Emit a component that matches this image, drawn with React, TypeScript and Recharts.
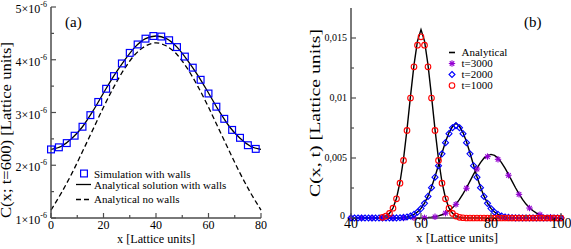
import React from 'react';
import { ComposedChart, Line, XAxis, YAxis } from 'recharts';

const FONT = '"Liberation Serif", "Times New Roman", Times, serif';
const FRAME = '#4d4d4d';
const BLUE = '#0000ff';
const RED = '#ff0000';
const VIOLET = '#9400d3';

// ---------------- Panel (a): C(x; t=600), values in units of 10^-6 ----------------
const aSimX = [0, 3, 6, 9, 12, 15, 18, 21, 24, 27, 30, 33, 36, 39, 42, 45, 48, 51, 54, 57, 60, 63, 66, 69, 72, 75, 78];
const aSimC = [2.30, 2.34, 2.42, 2.56, 2.73, 2.95, 3.20, 3.45, 3.69, 3.93, 4.13, 4.29, 4.40, 4.45, 4.44, 4.37, 4.24, 4.06, 3.85, 3.62, 3.36, 3.11, 2.88, 2.67, 2.52, 2.38, 2.31];
const aCurveX = [0, 4, 8, 12, 16, 20, 24, 28, 32, 36, 40, 44, 48, 52, 56, 60, 64, 68, 72, 76, 80];
const aWallsC = [2.30, 2.36, 2.51, 2.73, 3.03, 3.37, 3.70, 3.99, 4.24, 4.40, 4.45, 4.40, 4.24, 3.99, 3.70, 3.37, 3.03, 2.73, 2.51, 2.36, 2.30];
const aNoWallsC = [1.15, 1.48, 1.85, 2.26, 2.68, 3.10, 3.49, 3.83, 4.10, 4.26, 4.32, 4.26, 4.10, 3.83, 3.49, 3.10, 2.68, 2.26, 1.85, 1.48, 1.15];
const aXTicks = [0, 10, 20, 30, 40, 50, 60, 70, 80];
const aXMajor = [0, 20, 40, 60, 80];
const aYTicks = [1, 1.5, 2, 2.5, 3, 3.5, 4, 4.5, 5];
const aYMajor = [1, 2, 3, 4, 5];
const aLegend = ['Simulation with walls', 'Analytical solution with walls', 'Analytical no walls'];

// ---------------- Panel (b): C(x, t) ----------------
const bRedX = [49, 50, 51, 52, 53, 54, 55, 56, 57, 58, 59, 60, 61, 62, 63, 64, 65, 66, 67, 68, 69, 70, 71, 72, 73, 74, 75, 76, 77, 78, 79, 80, 81, 82, 83, 84, 85, 86, 87, 88, 89, 90, 91, 92, 93, 94, 95, 96, 97, 98, 99, 100];
const bRedC = [0.00006, 0.00016, 0.00038, 0.00082, 0.0016, 0.0029, 0.0048, 0.0073, 0.0100, 0.0126, 0.0144, 0.0151, 0.0144, 0.0126, 0.0100, 0.0073, 0.0048, 0.0029, 0.0016, 0.00082, 0.00038, 0.00016, 0.00006, 0.00002, 0, 0, 0, 0, 0, 0, 0, 0, 0, 0, 0, 0, 0, 0, 0, 0, 0, 0, 0, 0, 0, 0, 0, 0, 0, 0, 0, 0];
const bBlueX = [40, 41, 42, 43, 44, 45, 46, 47, 48, 49, 50, 51, 52, 53, 54, 55, 56, 57, 58, 59, 60, 61, 62, 63, 64, 65, 66, 67, 68, 69, 70, 71, 72, 73, 74, 75, 76, 77, 78, 79, 80, 81, 82, 83, 84, 85, 86, 87, 88, 89, 90, 91, 92, 93, 94, 95, 96, 97, 98, 99, 100];
const bBlueC = [0, 0, 0, 0, 0, 0, 0, 0, 0, 0, 0, 0, 0.00001, 0.00001, 0.00002, 0.00005, 0.00009, 0.00017, 0.00030, 0.00049, 0.00079, 0.00122, 0.00180, 0.00253, 0.00340, 0.00436, 0.00535, 0.00628, 0.00703, 0.00752, 0.00770, 0.00752, 0.00703, 0.00628, 0.00535, 0.00436, 0.00340, 0.00253, 0.00180, 0.00122, 0.00079, 0.00049, 0.00030, 0.00017, 0.00009, 0.00005, 0.00002, 0.00001, 0.00001, 0, 0, 0, 0, 0, 0, 0, 0, 0, 0, 0, 0];
const bVioletX = [40, 43, 46, 49, 52, 55, 58, 61, 64, 67, 70, 73, 76, 79, 82, 85, 88, 91, 94, 97, 100];
const bVioletC = [0, 0, 0, 0, 0, 0, 0.00001, 0.00002, 0.00010, 0.00040, 0.00114, 0.00248, 0.00408, 0.00512, 0.00489, 0.00356, 0.00197, 0.00083, 0.00027, 0.00007, 0.00001];

const bLine1000X = [40, 47, 48, 49, 50, 51, 52, 53, 54, 55, 56, 57, 58, 59, 60, 61, 62, 63, 64, 65, 66, 67, 68, 69, 70, 71, 72, 73, 100];
const bLine1000C = [0, 0.00001, 0.00002, 0.00006, 0.00016, 0.00039, 0.00083, 0.00165, 0.00298, 0.00491, 0.00739, 0.01016, 0.01276, 0.01475, 0.0157, 0.01475, 0.01276, 0.01016, 0.00739, 0.00491, 0.00298, 0.00165, 0.00083, 0.00039, 0.00016, 0.00006, 0.00002, 0.00001, 0];
const bLine2000X = [40, 52, 53, 54, 55, 56, 57, 58, 59, 60, 61, 62, 63, 64, 65, 66, 67, 68, 69, 70, 71, 72, 73, 74, 75, 76, 77, 78, 79, 80, 81, 82, 83, 84, 85, 86, 87, 88, 100];
const bLine2000C = [0, 0, 0.00001, 0.00002, 0.00005, 0.00009, 0.00017, 0.00030, 0.00050, 0.00080, 0.00124, 0.00182, 0.00256, 0.00344, 0.00442, 0.00542, 0.00636, 0.00712, 0.00762, 0.0079, 0.00762, 0.00712, 0.00636, 0.00542, 0.00442, 0.00344, 0.00256, 0.00182, 0.00124, 0.00080, 0.00050, 0.00030, 0.00017, 0.00009, 0.00005, 0.00002, 0.00001, 0, 0];
const bLine3000X = [40, 59, 60, 61, 62, 63, 64, 65, 66, 67, 68, 69, 70, 71, 72, 73, 74, 75, 76, 77, 78, 79, 80, 81, 82, 83, 84, 85, 86, 87, 88, 89, 90, 91, 92, 93, 94, 95, 96, 97, 98, 99, 100];
const bLine3000C = [0, 0, 0.00001, 0.00002, 0.00004, 0.00007, 0.00011, 0.00018, 0.00027, 0.00041, 0.00060, 0.00085, 0.00116, 0.00155, 0.00201, 0.00252, 0.00307, 0.00363, 0.00416, 0.00462, 0.00499, 0.00522, 0.0053, 0.00522, 0.00499, 0.00462, 0.00416, 0.00363, 0.00307, 0.00252, 0.00201, 0.00155, 0.00116, 0.00085, 0.00060, 0.00041, 0.00027, 0.00018, 0.00011, 0.00007, 0.00004, 0.00002, 0.00001];
const bXTicks = [40, 50, 60, 70, 80, 90, 100];
const bXMajor = [40, 60, 80, 100];
const bYTicks = [0, 0.0025, 0.005, 0.0075, 0.01, 0.0125, 0.015];
const bYMajor = [0, 0.005, 0.01, 0.015];
const bLegend = ['Analytical', 't=3000', 't=2000', 't=1000'];

const pts = (xs: number[], ys: number[]) => xs.map((x, i) => ({ x, y: ys[i] }));

// ---------------- marker shapes ----------------
const Square = ({ cx, cy }: any) => (
  <rect x={cx - 3.4} y={cy - 3.4} width={6.8} height={6.8} fill="none" stroke={BLUE} strokeWidth={1.2} />
);
const Circle = ({ cx, cy }: any) => <circle cx={cx} cy={cy} r={2.8} fill="none" stroke={RED} strokeWidth={1.1} />;
const Diamond = ({ cx, cy }: any) => (
  <polygon points={`${cx},${cy - 3} ${cx + 3},${cy} ${cx},${cy + 3} ${cx - 3},${cy}`} fill="none" stroke={BLUE} strokeWidth={1.1} />
);
const Star = ({ cx, cy }: any) => {
  const r = 3.2;
  const d = r * 0.707;
  return (
    <g stroke={VIOLET} strokeWidth={1.1}>
      <line x1={cx - r} y1={cy} x2={cx + r} y2={cy} />
      <line x1={cx} y1={cy - r} x2={cx} y2={cy + r} />
      <line x1={cx - d} y1={cy - d} x2={cx + d} y2={cy + d} />
      <line x1={cx - d} y1={cy + d} x2={cx + d} y2={cy - d} />
    </g>
  );
};
const dotOf = (Shape: any) => (p: any) => <Shape key={`d${p.index}`} cx={p.cx} cy={p.cy} />;

// ---------------- tick renderer ----------------
const isIn = (arr: number[], v: number) => arr.some((m) => Math.abs(m - v) < 1e-9);
type Side = 'left' | 'right' | 'top' | 'bottom';
const makeTick = (side: Side, majors: number[], label?: (v: number, x: number, y: number) => React.ReactNode) =>
  (props: any) => {
    const { x, y, payload } = props;
    const v = payload.value;
    const major = isIn(majors, v);
    const len = major ? 5 : 3;
    let l: any;
    if (side === 'left') l = { x1: x, y1: y, x2: x + len, y2: y };
    else if (side === 'right') l = { x1: x, y1: y, x2: x - len, y2: y };
    else if (side === 'bottom') l = { x1: x, y1: y, x2: x, y2: y - len };
    else l = { x1: x, y1: y, x2: x, y2: y + len };
    return (
      <g>
        <line {...l} stroke={FRAME} strokeWidth={1.2} />
        {major && label ? label(v, x, y) : null}
      </g>
    );
  };

const aYLabel = (v: number, x: number, y: number) => (
  <text x={x - 4} y={y + 6} textAnchor="end" fontFamily={FONT} fontSize={12} fill="#000">
    <tspan>{`${v}×10`}</tspan>
    <tspan dy={-6} fontSize={8}>-6</tspan>
  </text>
);
const aXLabel = (v: number, x: number, y: number) => (
  <text x={x} y={y + 11} textAnchor="middle" fontFamily={FONT} fontSize={12} fill="#000">{v}</text>
);
const bYLabel = (v: number, x: number, y: number) => (
  <text x={v === 0 ? x - 6 : x - 4} y={v === 0 ? y + 1 : y + 3} textAnchor="end" fontFamily={FONT} fontSize={10} fill="#000">
    {v === 0 ? '0' : String(v).replace('.', ',')}
  </text>
);
const bXLabel = (v: number, x: number, y: number) => (
  <text x={x} y={y + 9.5} textAnchor="middle" fontFamily={FONT} fontSize={14} fill="#000">{v}</text>
);

const axisLine = { stroke: FRAME, strokeWidth: 1.5 };

function PanelA() {
  return (
    <ComposedChart width={290} height={249} margin={{ top: 7, right: 29, bottom: 0, left: 0 }}>
      <XAxis xAxisId="b" dataKey="x" type="number" domain={[0, 80]} ticks={aXTicks} interval={0} height={31}
        tickSize={0} tickMargin={0} tickLine={false} axisLine={axisLine} tick={makeTick('bottom', aXMajor, aXLabel)} />
      <XAxis xAxisId="t" orientation="top" dataKey="x" type="number" domain={[0, 80]} ticks={aXTicks} interval={0} height={0}
        tickSize={0} tickMargin={0} tickLine={false} axisLine={axisLine} tick={makeTick('top', aXMajor)} />
      <YAxis yAxisId="l" type="number" domain={[1, 5]} ticks={aYTicks} interval={0} width={51}
        tickSize={0} tickMargin={0} tickLine={false} axisLine={axisLine} tick={makeTick('left', aYMajor, aYLabel)} />
      <YAxis yAxisId="r" orientation="right" type="number" domain={[1, 5]} ticks={aYTicks} interval={0} width={0}
        tickSize={0} tickMargin={0} tickLine={false} axisLine={axisLine} tick={makeTick('right', aYMajor)} />
      <Line xAxisId="t" yAxisId="r" data={pts(aCurveX, aNoWallsC)} dataKey="y" type="monotone" stroke="#000" strokeWidth={1.3}
        strokeDasharray="5 3" dot={false} activeDot={false} isAnimationActive={false} />
      <Line xAxisId="b" yAxisId="l" data={pts(aCurveX, aWallsC)} dataKey="y" type="monotone" stroke="#000" strokeWidth={1.3}
        dot={false} activeDot={false} isAnimationActive={false} />
      <Line xAxisId="b" yAxisId="l" data={pts(aSimX, aSimC)} dataKey="y" stroke="none" dot={dotOf(Square)}
        activeDot={false} isAnimationActive={false} />
    </ComposedChart>
  );
}

function PanelB() {
  return (
    <ComposedChart width={281} height={249} margin={{ top: 8, right: 10, bottom: 0, left: 0 }}>
      <XAxis xAxisId="b" dataKey="x" type="number" domain={[40, 100]} ticks={bXTicks} interval={0} height={31}
        tickSize={0} tickMargin={0} tickLine={false} axisLine={axisLine} tick={makeTick('bottom', bXMajor, bXLabel)} />
      <XAxis xAxisId="t" orientation="top" dataKey="x" type="number" domain={[40, 100]} ticks={bXTicks} interval={0} height={0}
        tickSize={0} tickMargin={0} tickLine={false} axisLine={axisLine} tick={makeTick('top', bXMajor)} />
      <YAxis yAxisId="l" type="number" domain={[0, 0.0175]} ticks={bYTicks} interval={0} width={61}
        tickSize={0} tickMargin={0} tickLine={false} axisLine={axisLine} tick={makeTick('left', bYMajor, bYLabel)} />
      <YAxis yAxisId="r" orientation="right" type="number" domain={[0, 0.0175]} ticks={bYTicks} interval={0} width={0}
        tickSize={0} tickMargin={0} tickLine={false} axisLine={axisLine} tick={makeTick('right', bYMajor)} />
      <Line xAxisId="t" yAxisId="r" data={pts(bLine1000X, bLine1000C)} dataKey="y" type="linear" stroke="#000" strokeWidth={1.4}
        dot={false} activeDot={false} isAnimationActive={false} />
      <Line xAxisId="b" yAxisId="l" data={pts(bLine2000X, bLine2000C)} dataKey="y" type="linear" stroke="#000" strokeWidth={1.4}
        dot={false} activeDot={false} isAnimationActive={false} />
      <Line xAxisId="b" yAxisId="l" data={pts(bLine3000X, bLine3000C)} dataKey="y" type="linear" stroke="#000" strokeWidth={1.4}
        dot={false} activeDot={false} isAnimationActive={false} />
      <Line xAxisId="b" yAxisId="l" data={pts(bVioletX, bVioletC)} dataKey="y" stroke="none" dot={dotOf(Star)}
        activeDot={false} isAnimationActive={false} />
      <Line xAxisId="b" yAxisId="l" data={pts(bBlueX, bBlueC)} dataKey="y" stroke="none" dot={dotOf(Diamond)}
        activeDot={false} isAnimationActive={false} />
      <Line xAxisId="b" yAxisId="l" data={pts(bRedX, bRedC)} dataKey="y" stroke="none" dot={dotOf(Circle)}
        activeDot={false} isAnimationActive={false} />
    </ComposedChart>
  );
}

function Overlay() {
  return (
    <svg width={571} height={249} style={{ position: 'absolute', left: 0, top: 0, pointerEvents: 'none' }}
      fontFamily={FONT} fill="#000">
      {/* panel (a) labels */}
      <text x={65} y={27} fontSize={15}>(a)</text>
      <text transform="translate(11,130) rotate(-90)" textAnchor="middle" fontSize={14}
        textLength={176} lengthAdjust="spacingAndGlyphs">C(x; t=600) [Lattice units]</text>
      <text x={156} y={242.5} textAnchor="middle" fontSize={12} textLength={78} lengthAdjust="spacingAndGlyphs">x [Lattice units]</text>
      {/* legend (a) */}
      <Square cx={84} cy={173.5} />
      <text x={94} y={177.5} fontSize={11}>{aLegend[0]}</text>
      <line x1={76} y1={184.5} x2={91} y2={184.5} stroke="#000" strokeWidth={1.3} />
      <text x={94} y={188.5} fontSize={11}>{aLegend[1]}</text>
      <line x1={76} y1={199.5} x2={91} y2={199.5} stroke="#000" strokeWidth={1.3} strokeDasharray="5 3" />
      <text x={94} y={203} fontSize={11}>{aLegend[2]}</text>

      {/* panel (b) labels */}
      <text x={524} y={27} fontSize={15}>(b)</text>
      <text transform="translate(320,113) rotate(-90)" textAnchor="middle" fontSize={14}
        textLength={168} lengthAdjust="spacingAndGlyphs">C(x, t) [Lattice units]</text>
      <text x={457} y={242} textAnchor="middle" fontSize={13} textLength={82} lengthAdjust="spacingAndGlyphs">x [Lattice units]</text>
      {/* legend (b) */}
      <line x1={449} y1={52.5} x2={455} y2={52.5} stroke="#000" strokeWidth={1.6} />
      <text x={461.5} y={56} fontSize={11}>{bLegend[0]}</text>
      <Star cx={452} cy={63.5} />
      <text x={461.5} y={67} fontSize={11}>{bLegend[1]}</text>
      <Diamond cx={452} cy={74.5} />
      <text x={461.5} y={78} fontSize={11}>{bLegend[2]}</text>
      <Circle cx={452} cy={85.5} />
      <text x={461.5} y={89} fontSize={11}>{bLegend[3]}</text>
    </svg>
  );
}

export default function App() {
  return (
    <div style={{ position: 'absolute', left: 0, top: 0, width: 571, height: 249, background: '#fff', overflow: 'hidden' }}>
      <div style={{ position: 'absolute', left: 0, top: 0 }}>
        <PanelA />
      </div>
      <div style={{ position: 'absolute', left: 290, top: 0 }}>
        <PanelB />
      </div>
      <Overlay />
    </div>
  );
}
